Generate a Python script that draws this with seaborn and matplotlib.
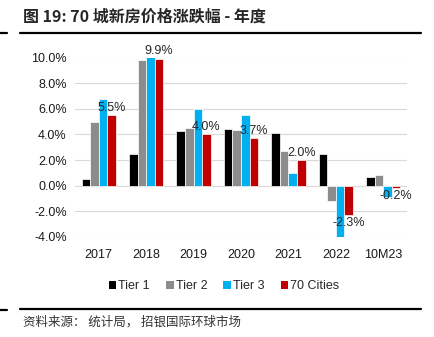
import matplotlib
matplotlib.use("Agg")
import matplotlib.pyplot as plt
import seaborn as sns
import pandas as pd
from matplotlib.lines import Line2D
from matplotlib.patches import Patch

years = ["2017", "2018", "2019", "2020", "2021", "2022", "10M23"]
series = ["Tier 1", "Tier 2", "Tier 3", "70 Cities"]
tier1 = [0.5, 2.5, 4.3, 4.4, 4.1, 2.5, 0.7]
tier2 = [5.0, 9.8, 4.5, 4.35, 2.7, -1.2, 0.8]
tier3 = [6.8, 10.0, 6.0, 5.5, 1.0, -4.1, -0.9]
cities70 = [5.5, 9.9, 4.0, 3.7, 2.0, -2.3, -0.2]
colors = ["#000000", "#8C8C8C", "#00B0F0", "#C00000"]

title = "图 19: 70 城新房价格涨跌幅 - 年度"
source = "资料来源： 统计局， 招银国际环球市场"

rows = []
for s, vals in zip(series, [tier1, tier2, tier3, cities70]):
    for y, v in zip(years, vals):
        rows.append({"year": y, "series": s, "value": v})
df = pd.DataFrame(rows)

sns.set_theme(style="white")
plt.rcParams["font.family"] = ["Liberation Sans", "Noto Sans CJK SC", "DejaVu Sans"]

W, H = 435, 337
fig = plt.figure(figsize=(W / 100, H / 100), dpi=100)
ax = fig.add_axes([75 / W, 1 - 237 / H, (407 - 75) / W, (237 - 57.5) / H])

sns.barplot(data=df, x="year", y="value", hue="series", order=years,
            hue_order=series, palette=colors, saturation=1, width=0.72,
            edgecolor="white", linewidth=0.5, ax=ax, legend=False, errorbar=None)

ax.set_ylim(-4, 10)
ax.set_yticks(range(-4, 11, 2))
ax.set_yticklabels([f"{v:.1f}%" for v in range(-4, 11, 2)])
ax.grid(axis="y", color="#D9D9D9", linewidth=0.8)
ax.set_axisbelow(True)
for sp in ax.spines.values():
    sp.set_visible(False)
ax.set_xlabel("")
ax.set_ylabel("")
ax.tick_params(axis="both", length=0, labelsize=9, colors="#1a1a1a")
ax.tick_params(axis="y", pad=6)
ax.tick_params(axis="x", pad=9)

cont = ax.containers[3]
ax.bar_label(cont, labels=[f"{v:.1f}%" for v in cities70], padding=1,
             fontsize=9, color="#262626")

handles = [Patch(facecolor=c, edgecolor="none") for c in colors]
fig.legend(handles, series, loc="center", bbox_to_anchor=(224 / W, 1 - 286 / H),
           ncol=4, frameon=False, fontsize=9, handlelength=0.6, handleheight=0.6,
           handletextpad=0.15, columnspacing=1.3)

fig.text(23 / W, 1 - 17 / H, title, fontsize=11.5, fontweight="bold",
         va="center", ha="left", family=["Noto Sans CJK SC", "DejaVu Sans"])
fig.add_artist(Line2D([20 / W, 421 / W], [1 - 33 / H] * 2, color="black", lw=1.6))
fig.add_artist(Line2D([0, 7 / W], [1 - 33 / H] * 2, color="black", lw=1.6))
fig.add_artist(Line2D([20 / W, 421 / W], [1 - 309 / H] * 2, color="black", lw=1.6))
fig.add_artist(Line2D([0, 7 / W], [1 - 310 / H] * 2, color="black", lw=1.6))
fig.text(23 / W, 1 - 322 / H, source, fontsize=9, va="center", ha="left",
         color="#333333", family=["Noto Sans CJK SC", "DejaVu Sans"])

fig.savefig("out.png", dpi=100)
